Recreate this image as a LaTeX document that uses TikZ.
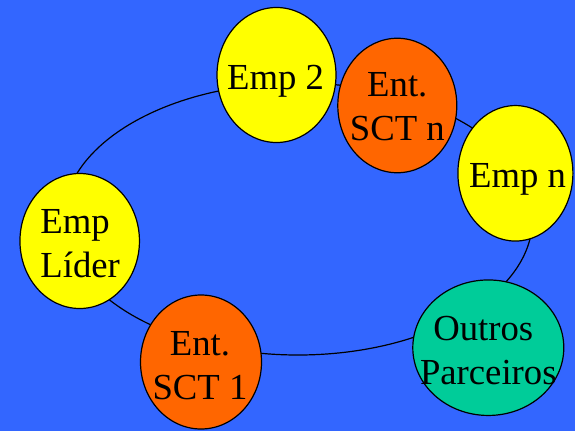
\documentclass[tikz,border=0pt]{standalone}
\usepackage{fontspec}
\setmainfont{Liberation Serif}
\usetikzlibrary{shapes.geometric}
\definecolor{bgblue}{HTML}{3366FF}
\definecolor{empyellow}{HTML}{FFFF00}
\definecolor{entorange}{HTML}{FF6600}
\definecolor{partteal}{HTML}{00CC99}
\begin{document}
\begin{tikzpicture}[x=1pt,y=-1pt,
  blob/.style={ellipse, draw=black, line width=1.2pt, inner sep=0pt},
  lbl/.style={anchor=north, inner sep=0pt, align=center, text=black,
              font=\fontsize{36.7}{44}\selectfont}]
\fill[bgblue] (0,0) rectangle (575,431);
\useasboundingbox (0,0) rectangle (575,431);
% ring behind everything
\node[draw=black, ellipse, line width=1.2pt, inner sep=0pt,
      minimum width=469pt, minimum height=272pt] (ring) at (298,219) {};
% participants
\node[blob, fill=empyellow, minimum width=119pt, minimum height=135pt] (emp2) at (276.5,75) {};
\node[blob, fill=entorange, minimum width=119pt, minimum height=134.5pt] (sctn) at (397.3,105.5) {};
\node[blob, fill=empyellow, minimum width=115pt, minimum height=135.5pt] (empn) at (515.4,173.3) {};
\node[blob, fill=empyellow, minimum width=119.5pt, minimum height=135pt] (lider) at (79.7,241) {};
\node[blob, fill=entorange, minimum width=121pt, minimum height=134pt] (sct1) at (201,362) {};
\node[blob, fill=partteal, minimum width=151pt, minimum height=135.5pt] (outros) at (488.3,347.7) {};
% labels
\node[lbl] (temp2) at (275.5,65) {Emp 2};
\node[lbl] (tsctn) at (397.3,72.7) {Ent.\\SCT n};
\node[lbl] (tempn) at (517.5,163.3) {Emp n};
\node[lbl, align=left] (tlider) at (80.2,209.7) {Emp\\Líder};
\node[lbl] (tsct1) at (200,331.7) {Ent.\\SCT 1};
\node[lbl] (toutros) at (488.3,316) {Outros\hspace*{10pt}\\Parceiros};
\end{tikzpicture}
\end{document}
